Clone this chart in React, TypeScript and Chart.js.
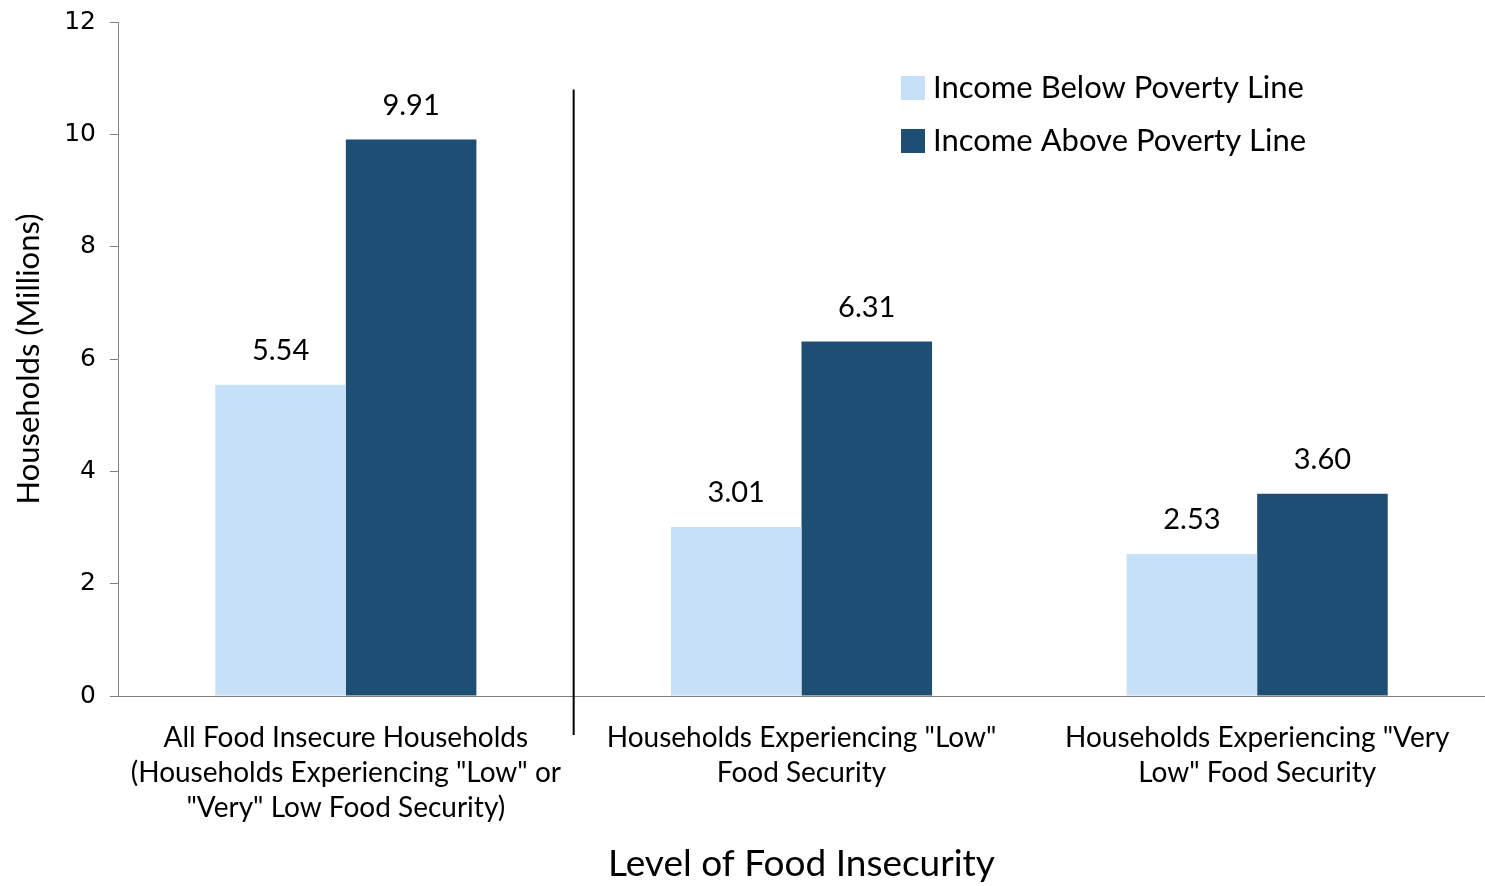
import React, { useEffect, useRef } from "react";
import { Chart, registerables } from "chart.js";

Chart.register(...registerables);

const categories: string[][] = [
  ["All Food Insecure Households", "(Households Experiencing \"Low\" or", "\"Very\" Low Food Security)"],
  ["Households Experiencing \"Low\"", "Food Security"],
  ["Households Experiencing \"Very", "Low\" Food Security"],
];
const belowPoverty = [5.54, 3.01, 2.53];
const abovePoverty = [9.91, 6.31, 3.6];
const seriesNames = ["Income Below Poverty Line", "Income Above Poverty Line"];
const yTicks = [0, 2, 4, 6, 8, 10, 12];

const FONT = "Lato, 'Open Sans', sans-serif";
const LIGHT = "#C5E0F7";
const DARK = "#1D4E74";

const dataLabels = {
  id: "dataLabels",
  afterDatasetsDraw(chart: any) {
    const ctx = chart.ctx;
    ctx.save();
    ctx.font = `29px ${FONT}`;
    ctx.fillStyle = "#000";
    ctx.textAlign = "center";
    ctx.textBaseline = "middle";
    chart.data.datasets.forEach((ds: any, i: number) => {
      const meta = chart.getDatasetMeta(i);
      meta.data.forEach((bar: any, j: number) => {
        ctx.fillText(Number(ds.data[j]).toFixed(2), bar.x, bar.y - 34);
      });
    });
    ctx.restore();
  },
};

const divider = {
  id: "divider",
  afterDraw(chart: any) {
    const x = chart.scales.x;
    const y = chart.scales.y;
    const px = (x.getPixelForValue(0) + x.getPixelForValue(1)) / 2;
    const ctx = chart.ctx;
    ctx.save();
    ctx.strokeStyle = "#000";
    ctx.lineWidth = 2;
    ctx.beginPath();
    ctx.moveTo(px, y.getPixelForValue(10.8));
    ctx.lineTo(px, y.bottom + 39);
    ctx.stroke();
    ctx.restore();
  },
};

const insideLegend = {
  id: "insideLegend",
  afterDraw(chart: any) {
    const ctx = chart.ctx;
    const area = chart.chartArea;
    const left = area.left + (901 - 118);
    const top = area.top + 54;
    ctx.save();
    ctx.font = `31px ${FONT}`;
    ctx.textBaseline = "middle";
    ctx.textAlign = "left";
    chart.data.datasets.forEach((ds: any, i: number) => {
      const cy = top + 12 + i * 53;
      ctx.fillStyle = ds.backgroundColor;
      ctx.fillRect(left, cy - 12, 24, 24);
      ctx.fillStyle = "#000";
      ctx.fillText(ds.label, left + 32, cy);
    });
    ctx.restore();
  },
};

export default function App() {
  const ref = useRef<HTMLCanvasElement | null>(null);
  useEffect(() => {
    document.body.style.margin = "0";
    if (!ref.current) return;
    const chart = new Chart(ref.current, {
      type: "bar",
      data: {
        labels: categories,
        datasets: [
          { label: seriesNames[0], data: belowPoverty, backgroundColor: LIGHT, categoryPercentage: 0.573, barPercentage: 1 },
          { label: seriesNames[1], data: abovePoverty, backgroundColor: DARK, categoryPercentage: 0.573, barPercentage: 1 },
        ],
      },
      options: {
        animation: false,
        responsive: false,
        layout: { padding: { top: 22, right: 0, left: 0, bottom: 0 } },
        plugins: {
          legend: { display: false },
          tooltip: { enabled: false },
        },
        scales: {
          x: {
            grid: { display: false, drawTicks: false },
            border: { display: true, color: "#808080", width: 1 },
            ticks: { color: "#000", font: { family: FONT, size: 28, lineHeight: 1.25 }, padding: 24, maxRotation: 0, autoSkip: false },
            title: { display: true, text: "Level of Food Insecurity", color: "#000", font: { family: FONT, size: 37 }, padding: { top: 0, bottom: 0 } },
            afterFit(scale: any) { scale.height = 190; scale.paddingLeft = 0; scale.paddingRight = 0; },
          },
          y: {
            min: 0,
            max: 12,
            afterBuildTicks(scale: any) { scale.ticks = yTicks.map((v) => ({ value: v })); },
            grid: { drawOnChartArea: false, drawTicks: true, tickLength: 8, color: "#808080" },
            border: { display: true, color: "#808080", width: 1 },
            ticks: { color: "#000", font: { family: "'DejaVu Sans', sans-serif", size: 25 }, padding: 14 },
            title: { display: true, text: "Households (Millions)", color: "#000", font: { family: FONT, size: 31 }, padding: { top: 10, bottom: 0 } },
            afterFit(scale: any) { scale.width = 118; scale.paddingTop = 0; scale.paddingBottom = 0; },
          },
        },
      },
      plugins: [dataLabels, divider, insideLegend],
    });
    return () => chart.destroy();
  }, []);
  return <canvas ref={ref} width={1485} height={886} style={{ display: "block", width: 1485, height: 886 }} />;
}
